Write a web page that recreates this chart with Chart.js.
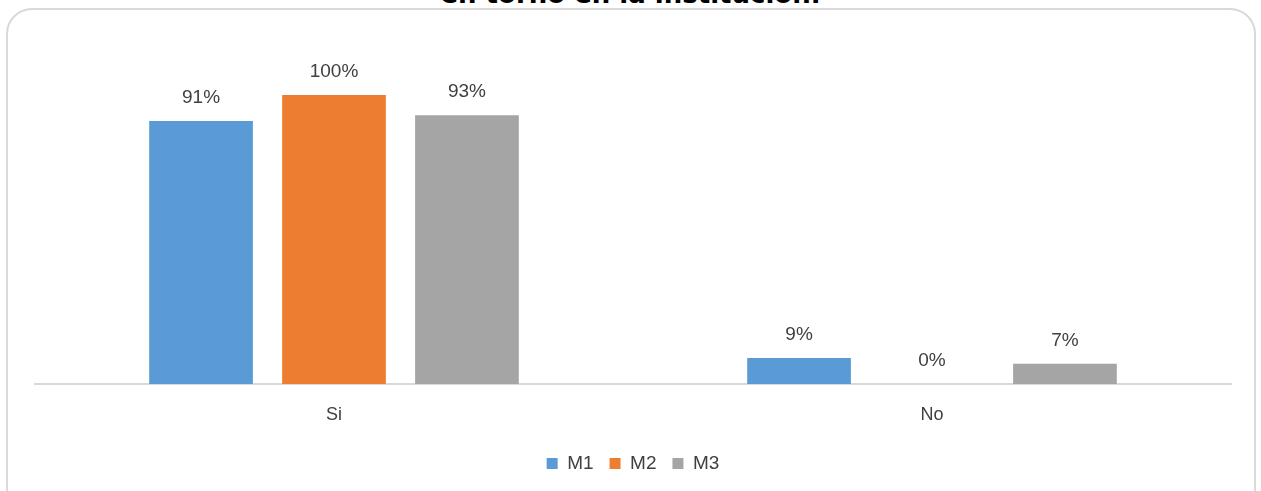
<!DOCTYPE html>
<html>
<head>
<meta charset="utf-8">
<script src="https://cdn.jsdelivr.net/npm/chart.js@4.4.1/dist/chart.umd.min.js"></script>
<style>
    html, body { margin: 0; padding: 0; background: #fff; overflow: hidden; }
    #wrap { position: relative; width: 1261px; height: 491px; }
    #frame {
        position: absolute; left: 6px; top: 8px; width: 1250px; height: 520px;
        border: 2px solid #d9d9d9; border-radius: 26px; box-sizing: border-box;
    }
    #title {
        position: absolute; left: 0; width: 1261px; top: -21px; text-align: center;
        font: bold 26px "DejaVu Sans", sans-serif; color: #000; line-height: 30px;
    }
    canvas { position: absolute; left: 0; top: 0; }
</style>
</head>
<body>
<div id="wrap">
    <div id="frame"></div>
    <div id="title">en torno en la institución.</div>
    <canvas id="chart" width="1261" height="491"></canvas>
</div>
<script>
// ================================
// Data
// ================================
const categories = ['Si', 'No'];
const seriesNames = ['M1', 'M2', 'M3'];
const m1Values = [91, 9];
const m2Values = [100, 0];
const m3Values = [93, 7];
const seriesColors = ['#5b9bd5', '#ed7d31', '#a5a5a5'];

const textColor = '#404040';
const fontFamily = '"Liberation Sans", "DejaVu Sans", sans-serif';

// Draw value labels above each bar
const valueLabels = {
    id: 'valueLabels',
    afterDatasetsDraw(chart) {
        const ctx = chart.ctx;
        ctx.save();
        ctx.fillStyle = textColor;
        ctx.font = '19px ' + fontFamily;
        ctx.textAlign = 'center';
        ctx.textBaseline = 'middle';
        chart.data.datasets.forEach((ds, i) => {
            chart.getDatasetMeta(i).data.forEach((bar, j) => {
                ctx.fillText(ds.data[j] + '%', bar.x, bar.y - 23);
            });
        });
        ctx.restore();
    }
};

const valueSets = [m1Values, m2Values, m3Values];

new Chart(document.getElementById('chart').getContext('2d'), {
    type: 'bar',
    data: {
        labels: categories,
        datasets: seriesNames.map((name, i) => ({
            label: name,
            data: valueSets[i],
            backgroundColor: seriesColors[i],
            borderWidth: 0,
            categoryPercentage: 0.667,
            barPercentage: 0.78
        }))
    },
    options: {
        responsive: false,
        animation: false,
        layout: {
            padding: { left: 35, right: 30, top: 95, bottom: 8 }
        },
        plugins: {
            legend: {
                position: 'bottom',
                labels: {
                    boxWidth: 11,
                    boxHeight: 11,
                    color: textColor,
                    font: { size: 19, family: fontFamily },
                    padding: 16
                }
            },
            tooltip: { enabled: false }
        },
        scales: {
            x: {
                grid: { display: false, drawTicks: false },
                border: { display: true, color: '#d9d9d9', width: 2 },
                ticks: {
                    color: textColor,
                    font: { size: 18, family: fontFamily },
                    padding: 20
                },
                afterFit(scale) {
                    scale.height = 54;
                }
            },
            y: {
                display: false,
                min: 0,
                max: 100
            }
        }
    },
    plugins: [valueLabels]
});
</script>
</body>
</html>
